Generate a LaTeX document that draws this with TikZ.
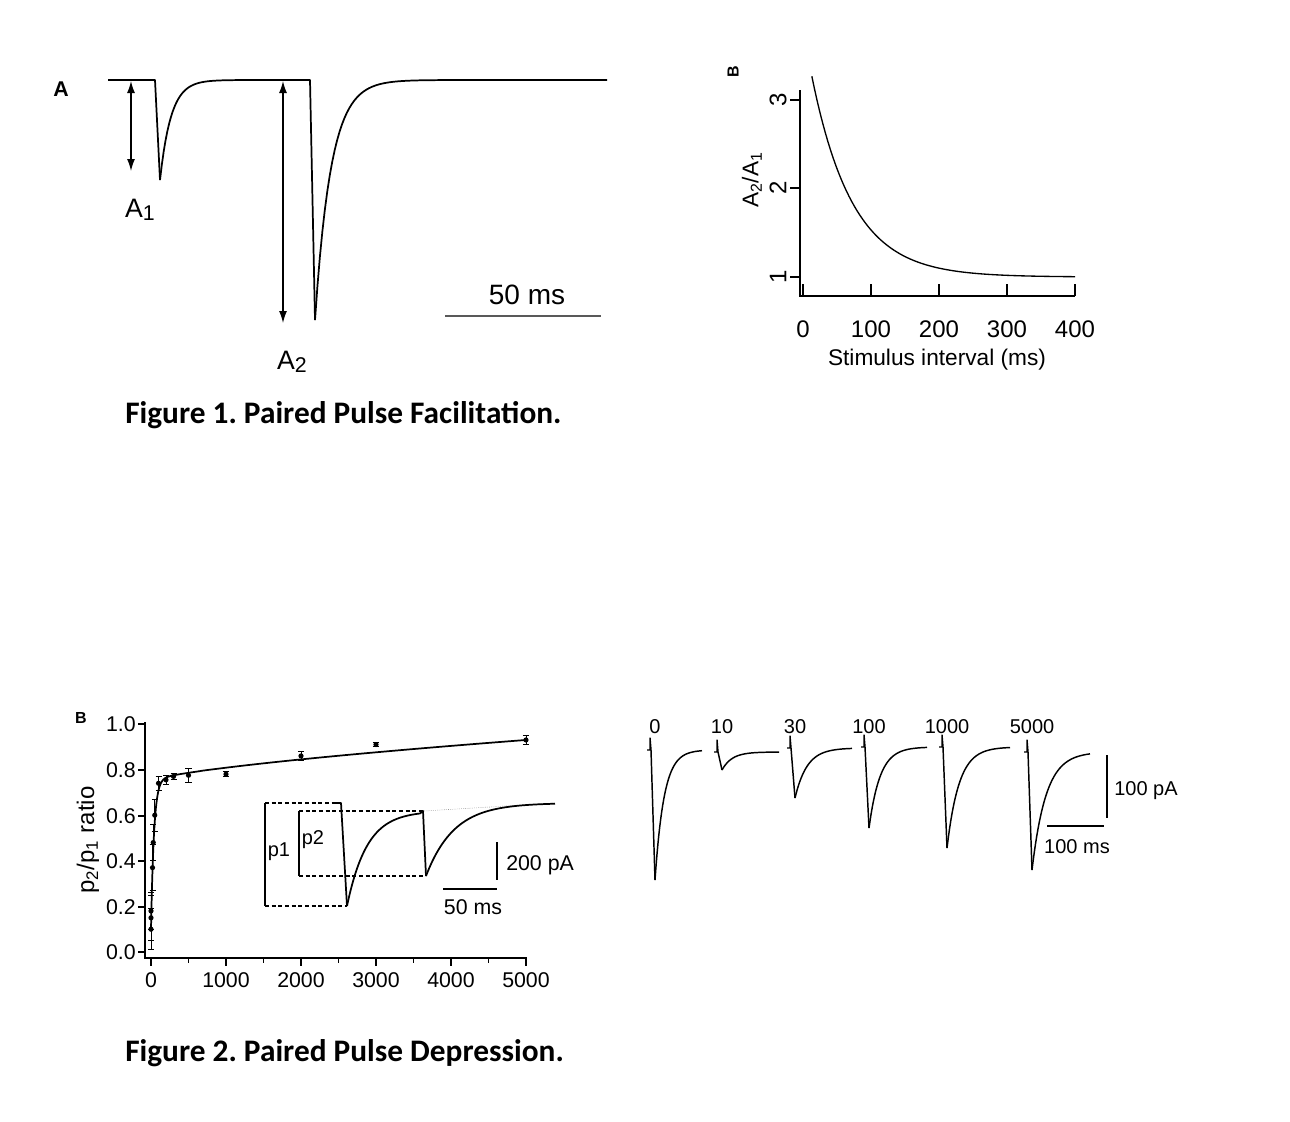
\documentclass[tikz,border=0pt]{standalone}
\usepackage{fontspec}
\setmainfont{Liberation Sans}
\newfontfamily\capfont{Carlito}
\usetikzlibrary{arrows.meta}
\frenchspacing
\begin{document}
\begin{tikzpicture}[x=0.75pt,y=-0.75pt,
  trace/.style={line width=1.3pt,line join=round},
  ax/.style={line width=1pt},
  dsh/.style={densely dashed,line width=0.8pt},
  lab/.style={inner sep=0pt,font=\fontsize{#1}{#1}\selectfont},
  lab/.default=14]
\useasboundingbox[fill=white] (0,0) rectangle (1290,1122);
% ===== Figure 1A
\node[lab=16,font=\fontsize{16}{16}\selectfont\bfseries] (A) at (61,89) {A};
\draw[trace] (108,80) -- (155,80) -- (160,180);
\draw[trace,domain=160:305,samples=80] plot (\x,{80+100*exp(-(\x-160)/11)}) -- (310,80) -- (315,320);
\draw[trace,domain=315:607,samples=120] plot (\x,{80+240*exp(-(\x-315)/16)});
\draw[ax,{Latex[length=9pt,width=6pt]}-{Latex[length=9pt,width=6pt]}] (131,81) -- (131,171);
\draw[ax,{Latex[length=9pt,width=6pt]}-{Latex[length=9pt,width=6pt]}] (283,81) -- (283,323);
\node[lab=20] (a1) at (140,210) {A{\fontsize{16}{16}\selectfont\raisebox{-0.25ex}{1}}};
\node[lab=20] (a2) at (292,362) {A{\fontsize{16}{16}\selectfont\raisebox{-0.25ex}{2}}};
\draw[line width=1.8pt,gray!70!black] (445,316) -- (601,316);
\node[lab=21] (s1) at (527,295) {50 ms};
\node[lab=24,anchor=west,font=\fontsize{23.5}{24}\selectfont\capfont\bfseries] (c1) at (125,415) {Figure 1. Paired Pulse Facilitation.};
% ===== Figure 1B
\node[lab=12,rotate=90,font=\fontsize{12}{12}\selectfont\bfseries] (B1) at (733,72) {B};
\draw[ax] (800,90) -- (800,296) -- (1075,296);
\foreach \v/\yy in {3/100,2/188,1/277}{
  \draw[ax] (790,\yy) -- (800,\yy);
  \node[lab=18,rotate=90] at (778,\yy) {\v};}
\foreach \t in {0,1,2,3,4}{
  \draw[ax] ({803+68*\t},296) -- ({803+68*\t},284);
  \node[lab=18] at ({803+68*\t},329) {\ifnum\t=0 0\else\t00\fi};}
\node[lab=17,rotate=90] (yl1) at (752,180) {A\textsubscript{2}/A\textsubscript{1}};
\node[lab=17] (xl1) at (937,360) {Stimulus interval (ms)};
\draw[line width=1pt,domain=13:400,samples=100] plot ({803+0.68*\x},{277-89*2.8*exp(-\x/60)});
% ===== Figure 2 B
\node[lab=12,font=\fontsize{12}{12}\selectfont\bfseries] (B2) at (81,718) {B};
\draw[ax] (145,722) -- (145,958) -- (527,958);
\foreach \v/\yy in {1.0/724,0.8/770,0.6/816,0.4/861,0.2/907,0.0/952}{
  \draw[ax] (138,\yy) -- (145,\yy);
  \node[lab=16,anchor=east] at (136,\yy) {\v};}
\foreach \t in {0,1000,2000,3000,4000,5000}{
  \draw[ax] ({151+0.075*\t},958) -- ({151+0.075*\t},966);
  \node[lab=16] at ({151+0.075*\t},980) {\t};}
\foreach \t in {500,1500,2500,3500,4500}{
  \draw[ax] ({151+0.075*\t},958) -- ({151+0.075*\t},963);}
\node[lab=18,rotate=90] (yl2) at (88,840) {p\textsubscript{2}/p\textsubscript{1} ratio};
\draw[line width=1.3pt,domain=0:300,samples=80] plot ({151+0.075*\x},{952-228*(0.1+0.65*(1-exp(-\x/40))+0.18*(\x/5000)^0.7)});
\draw[line width=1.3pt,domain=300:5000,samples=60] plot ({151+0.075*\x},{952-228*(0.1+0.65*(1-exp(-\x/40))+0.18*(\x/5000)^0.7)});
\foreach \t/\v/\e in {0/0.10/0.09,0/0.15/0.1,0/0.18/0.08,20/0.37/0.1,30/0.48/0.08,50/0.6/0.07,100/0.74/0.03,200/0.755/0.02,300/0.77/0.015,500/0.775/0.03,1000/0.78/0.01,2000/0.86/0.02,3000/0.91/0.01,5000/0.93/0.02}{
  \fill ({151+0.075*\t},{952-228*\v}) circle (2.6);
  \draw[line width=0.6pt] ({151+0.075*\t},{952-228*(\v-\e)}) -- ({151+0.075*\t},{952-228*(\v+\e)})
    ({151+0.075*\t-3},{952-228*(\v-\e)}) -- ({151+0.075*\t+3},{952-228*(\v-\e)})
    ({151+0.075*\t-3},{952-228*(\v+\e)}) -- ({151+0.075*\t+3},{952-228*(\v+\e)});}
% inset
\draw[dsh] (265,803) -- (340,803);
\draw[dsh] (265,906) -- (347,906);
\draw[line width=0.9pt] (265,803) -- (265,906);
\draw[dsh] (299,811) -- (424,811);
\draw[dsh] (299,876) -- (425,876);
\draw[line width=0.9pt] (299,811) -- (299,876);
\draw[densely dotted,gray] (424,811) -- (555,803);
\draw[trace] (335,803) -- (341,803) -- (347,906);
\draw[trace,domain=347:420,samples=60] plot (\x,{811+95*exp(-(\x-347)/20)}) -- (423,811) -- (426,876);
\draw[trace,domain=426:555,samples=80] plot (\x,{803+73*exp(-(\x-426)/28)});
\node[lab=15] (p1) at (279,852) {p1};
\node[lab=15] (p2) at (313,840) {p2};
\draw[line width=1.2pt] (497,842) -- (497,880);
\node[lab=16,anchor=west] (pa) at (506,865) {200 pA};
\draw[line width=1.2pt] (443,889) -- (497,889);
\node[lab=16] (ms2) at (473,907) {50 ms};
% right traces
\foreach \xs/\pk/\base/\xe/\lbl/\tau in {650/880/750/702/0/9,717/770/752/779/10/10,790/798/748/852/30/12,864/828/747/927/100/11,942/848/747/1010/1000/12,1027/870/752/1090/5000/14}{
  \draw[trace,line width=1.1pt] (\xs-3,\base) -- (\xs,\base) -- (\xs,\base-12) -- (\xs+1,\base) -- (\xs+5,\pk);
  \draw[trace,line width=1.1pt,domain=\xs+5:\xe,samples=50] plot (\x,{\base+(\pk-\base)*exp(-(\x-\xs-5)/\tau)});
  \node[lab=15] at (\xs+5,727) {\lbl};}
\draw[line width=1.5pt] (1107,755) -- (1107,818);
\node[lab=15,anchor=west] (pa2) at (1114,791) {100 pA};
\draw[line width=1.5pt] (1047,826) -- (1104,826);
\node[lab=15] (ms3) at (1077,847) {100 ms};
\node[lab=24,anchor=west,font=\fontsize{23.5}{24}\selectfont\capfont\bfseries] (c2) at (125,1053) {Figure 2. Paired Pulse Depression.};
\end{tikzpicture}
\end{document}
